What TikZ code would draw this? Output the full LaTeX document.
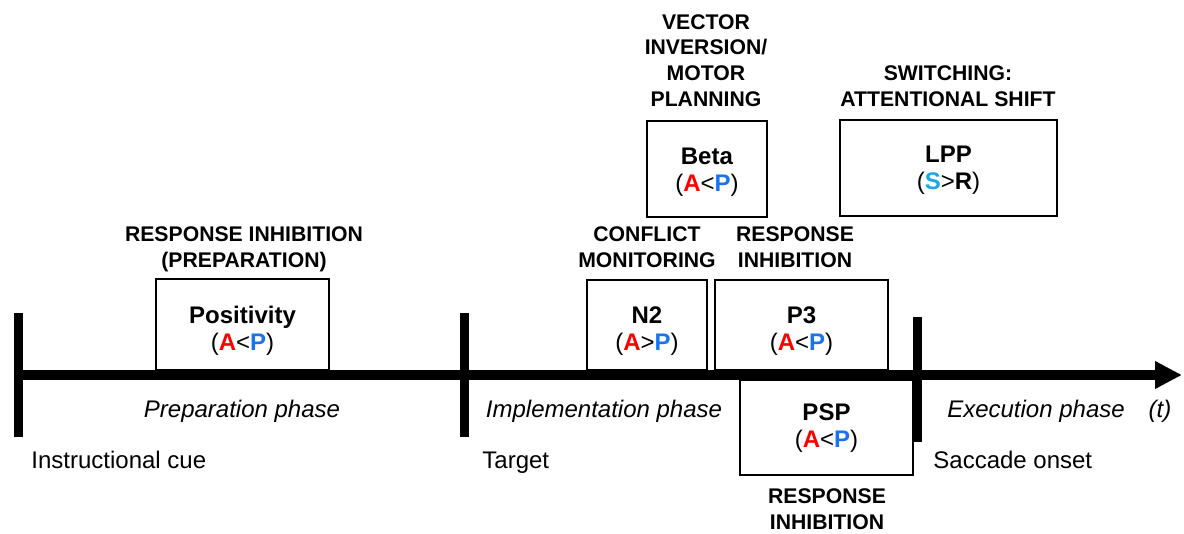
\documentclass[tikz,border=0pt]{standalone}
\usepackage{fontspec}
\setmainfont{Liberation Sans}
\usetikzlibrary{arrows.meta}
\definecolor{ARed}{HTML}{FF0000}
\definecolor{PBlue}{HTML}{1874F0}
\definecolor{SCyan}{HTML}{1AA7E6}
\newcommand{\AltP}{(\textbf{\textcolor{ARed}{A}}<\textbf{\textcolor{PBlue}{P}})}
\newcommand{\AgtP}{(\textbf{\textcolor{ARed}{A}}>\textbf{\textcolor{PBlue}{P}})}

\begin{document}
\begin{tikzpicture}[x=0.5pt,y=-0.5pt,
 comp/.style={draw,line width=0.8pt,inner sep=0pt},
 comptext/.style={inner sep=0pt,align=center,font=\fontsize{12}{13.5}\selectfont},
 func/.style={inner sep=0pt,align=center,font=\bfseries\fontsize{10.6}{12.8}\selectfont},
 phase/.style={inner sep=0pt,font=\itshape\fontsize{12}{14}\selectfont},
 event/.style={inner sep=0pt,anchor=base west,font=\fontsize{12}{14}\selectfont},
 tick/.style={line width=4.5pt}]
 \useasboundingbox (0,0) rectangle (1184,534);
 % time axis
 \coordinate (start) at (15,375);
 \coordinate (stop) at (1182,375);
 \draw[line width=5pt,-{Triangle[length=13.5pt,width=13pt]}] (start) -- (stop);
 \draw[tick] (18,313) -- (18,437);
 \draw[tick] (464,313) -- (464,437);
 \draw[tick] (917,317) -- (917,442);
 % components
 \node[comp,minimum width=86.5pt,minimum height=45.5pt] (pos) at (242.5,324.5) {};
 \node[comp,minimum width=60pt,minimum height=45pt] (n2) at (647,325) {};
 \node[comp,minimum width=86.5pt,minimum height=45pt] (p3) at (801.5,325) {};
 \node[comp,minimum width=86.5pt,minimum height=47.5pt] (psp) at (826.5,427.5) {};
 \node[comp,minimum width=60pt,minimum height=48pt] (beta) at (707,169) {};
 \node[comp,minimum width=108.5pt,minimum height=48pt] (lpp) at (948.5,168) {};
 \node[comptext] (posT) at (242.5,331) {\textbf{Positivity}\\\AltP};
 \node[comptext] (n2T) at (647,331) {\textbf{N2}\\\AgtP};
 \node[comptext] (p3T) at (801.5,331) {\textbf{P3}\\\AltP};
 \node[comptext] (pspT) at (826.5,428) {\textbf{PSP}\\\AltP};
 \node[comptext] (betaT) at (707,172) {\textbf{Beta}\\\AltP};
 \node[comptext] (lppT) at (948.5,170.5) {\textbf{LPP}\\(\textbf{\textcolor{SCyan}{S}}>\textbf{R})};
 % functions
 \node[func] (posf) at (244,249.5) {RESPONSE INHIBITION\\(PREPARATION)};
 \node[func] (betaf) at (706,60.5) {VECTOR\\INVERSION/\\MOTOR\\PLANNING};
 \node[func] (lppf) at (948,86.5) {SWITCHING:\\ATTENTIONAL SHIFT};
 \node[func] (n2f) at (647,247.5) {CONFLICT\\MONITORING};
 \node[func] (p3f) at (795,247.5) {RESPONSE\\INHIBITION};
 \node[func] (pspf) at (827,509.5) {RESPONSE\\INHIBITION};
 % phases and events
 \node[phase] (prep) at (242,411) {Preparation phase};
 \node[phase] (impl) at (604,411) {Implementation phase};
 \node[phase] (exec) at (1036,411) {Execution phase};
 \node[phase] (time) at (1160,411) {(t)};
 \node[event] (cue) at (31,468) {Instructional cue};
 \node[event] (target) at (482,468) {Target};
 \node[event] (onset) at (933,468) {Saccade onset};
\end{tikzpicture}
\end{document}
